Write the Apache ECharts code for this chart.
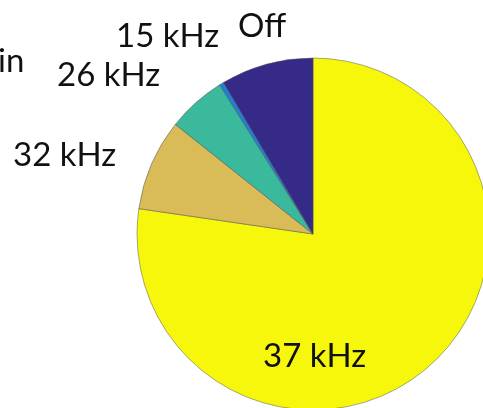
<!DOCTYPE html>
<html>
<head>
<meta charset="utf-8">
<script src="https://cdn.jsdelivr.net/npm/echarts@6/dist/echarts.min.js"></script>
<style>
  html, body { margin: 0; padding: 0; background: #ffffff; }
  #chart { width: 483px; height: 408px; }
</style>
</head>
<body>
<div id="chart"></div>
<script>
// Share of time at each operating frequency (percent), clockwise from 12 o'clock
const categories = ['37 kHz', '32 kHz', '26 kHz', '15 kHz', 'Off'];
const shares = [77.3, 8.4, 5.4, 0.4, 8.5];
const sliceColors = ['#f7f70c', '#d9bb58', '#3bb99d', '#1c82d8', '#352a87'];

// Where each label sits (left edge x, vertical middle y)
const labelSpots = {
  '37 kHz': [263, 356],
  '32 kHz': [13, 155],
  '26 kHz': [57, 75],
  '15 kHz': [116, 36],
  'Off':    [238, 26]
};

const chart = echarts.init(document.getElementById('chart'), null, { renderer: 'canvas' });

chart.setOption({
  animation: false,
  backgroundColor: '#ffffff',
  graphic: [
    {
      type: 'text',
      left: -2,
      top: 45,
      style: { text: 'in', font: '33px Lato', fill: '#111111' }
    }
  ],
  series: [
    {
      type: 'pie',
      center: [313, 234],
      radius: 176,
      startAngle: 90,
      clockwise: true,
      avoidLabelOverlap: false,
      data: categories.map((name, i) => ({
        name: name,
        value: shares[i],
        itemStyle: { color: sliceColors[i] }
      })),
      itemStyle: {
        borderColor: 'rgba(80,80,80,0.7)',
        borderWidth: 0.7
      },
      label: {
        show: true,
        position: 'outside',
        formatter: '{b}',
        color: '#111111',
        fontFamily: 'Lato',
        fontSize: 33
      },
      labelLine: { show: false },
      labelLayout: function (params) {
        const name = categories[params.dataIndex];
        const p = labelSpots[name];
        return { x: p[0], y: p[1], align: 'left', verticalAlign: 'middle', moveOverlap: null };
      },
      emphasis: { disabled: true }
    }
  ]
});
</script>
</body>
</html>
